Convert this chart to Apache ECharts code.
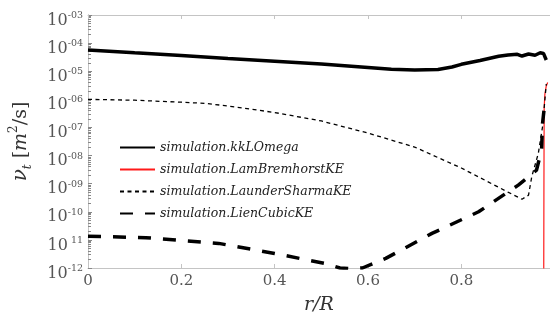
<!DOCTYPE html>
<html><head><meta charset="utf-8">
<script src="https://cdn.jsdelivr.net/npm/echarts@6/dist/echarts.min.js"></script>
<style>html,body{margin:0;padding:0;background:#fff}#c{width:550px;height:320px}</style>
</head><body><div id="c"></div>
<script>
// ---- data ----
const seriesNames = ['simulation.kkLOmega','simulation.LamBremhorstKE','simulation.LaunderSharmaKE','simulation.LienCubicKE'];
const rKk   = [0, 0.1, 0.2, 0.3, 0.4, 0.5, 0.6, 0.65, 0.7, 0.75, 0.78, 0.8, 0.84, 0.88, 0.9, 0.92, 0.93, 0.944, 0.958, 0.969, 0.976, 0.982];
const nuKk  = [5.7e-5, 4.5e-5, 3.6e-5, 2.83e-5, 2.25e-5, 1.79e-5, 1.35e-5, 1.17e-5, 1.10e-5, 1.15e-5, 1.41e-5, 1.76e-5, 2.4e-5, 3.39e-5, 3.77e-5, 4.0e-5, 3.47e-5, 4.1e-5, 3.7e-5, 4.55e-5, 4.3e-5, 2.5e-5];
const rLB   = [0, 0.97, 0.9765, 0.977, 0.9775, 0.979, 0.982, 0.985];
const nuLB  = [1e-15, 1e-15, 1e-13, 1e-9, 5e-7, 1.5e-6, 3e-6, 4e-6];
const rLS   = [0, 0.1, 0.2, 0.25, 0.3, 0.4, 0.5, 0.6, 0.7, 0.8, 0.85, 0.9, 0.93, 0.944, 0.951, 0.965, 0.974, 0.982];
const nuLS  = [1e-6, 9.3e-7, 7.9e-7, 7.2e-7, 5.8e-7, 3.4e-7, 1.7e-7, 6.3e-8, 2.0e-8, 3.6e-9, 1.34e-9, 5e-10, 2.8e-10, 3.9e-10, 1.8e-9, 1.2e-8, 1.06e-7, 3.5e-6];
const rLC   = [0, 0.124, 0.28, 0.4, 0.507, 0.54, 0.56, 0.588, 0.638, 0.737, 0.837, 0.922, 0.961, 0.972, 0.974, 0.978];
const nuLC  = [1.36e-11, 1.2e-11, 7.5e-12, 3.3e-12, 1.46e-12, 1.0e-12, 9.5e-13, 1.0e-12, 2.2e-12, 1.7e-11, 1e-10, 8.9e-10, 3.0e-9, 1.6e-8, 1.4e-7, 5.5e-7];
const xTicks = [0, 0.2, 0.4, 0.6, 0.8];

const zip = (a, b) => a.map((v, i) => [v, b[i]]);
const serif = '"DejaVu Serif", "Liberation Serif", serif';
const axisCol = '#c4c4c4';

const chart = echarts.init(document.getElementById('c'));
chart.setOption({
  animation: false,
  grid: { left: 87, top: 15, width: 465, height: 253 },
  legend: {
    left: 114, top: 136, orient: 'vertical', itemGap: 9, itemWidth: 35, itemHeight: 14,
    itemStyle: { opacity: 0 },
    textStyle: { fontFamily: serif, fontStyle: 'italic', fontSize: 12.5, color: '#222' },
    data: seriesNames
  },
  xAxis: [{
    type: 'value', min: 0, max: 0.99, interval: 0.2,
    name: 'r/R', nameLocation: 'middle', nameGap: 28,
    nameTextStyle: { fontFamily: serif, fontStyle: 'italic', fontSize: 19, color: '#333' },
    axisLine: { show: true, lineStyle: { color: axisCol } },
    axisTick: { inside: true, length: 4, lineStyle: { color: axisCol } },
    axisLabel: { fontFamily: serif, fontSize: 15, color: '#555', margin: 6,
      formatter: v => (xTicks.indexOf(Math.round(v * 10) / 10) >= 0 ? String(Math.round(v * 10) / 10) : '') ,
      showMaxLabel: false },
    splitLine: { show: false }
  }, {
    type: 'value', position: 'top', min: 0, max: 0.99, interval: 0.2,
    axisLine: { show: true, lineStyle: { color: axisCol } },
    axisTick: { inside: true, length: 4, lineStyle: { color: axisCol } },
    axisLabel: { show: false }, splitLine: { show: false }
  }],
  yAxis: [{
    type: 'log', logBase: 10, min: 1e-12, max: 1e-3,
    name: '{g|ν}{sub|t} [{i|m}{sup|2}/s]', nameLocation: 'middle', nameGap: 54, nameRotate: 90,
    nameTextStyle: { fontFamily: serif, fontSize: 19, color: '#333',
      rich: {
        g: { fontFamily: serif, fontStyle: 'italic', fontSize: 20, color: '#333', lineHeight: 26, verticalAlign: 'middle' },
        i: { fontFamily: serif, fontStyle: 'italic', fontSize: 19, color: '#333', lineHeight: 26, verticalAlign: 'middle' },
        sub: { fontFamily: serif, fontStyle: 'italic', fontSize: 12, color: '#333', lineHeight: 12, verticalAlign: 'bottom' },
        sup: { fontFamily: serif, fontSize: 12, color: '#333', lineHeight: 12, verticalAlign: 'top' }
      } },
    axisLine: { show: true, lineStyle: { color: '#aaa' } },
    axisTick: { inside: true, length: 4, lineStyle: { color: '#888' } },
    minorTick: { show: true, splitNumber: 9, length: 3, lineStyle: { color: '#888' } },
    axisLabel: {
      margin: 5, padding: [9, 0, 0, 0],
      formatter: v => {
        const e = Math.round(Math.log10(v));
        const s = e === -11 ? ' 11' : '-' + String(-e).padStart(2, '0');
        return '{b|10}{s|' + s + '}';
      },
      rich: {
        b: { fontFamily: serif, fontSize: 16, color: '#555', lineHeight: 18, verticalAlign: 'bottom' },
        s: { fontFamily: serif, fontSize: 9.5, color: '#555', lineHeight: 10, verticalAlign: 'top' }
      }
    },
    splitLine: { show: false }
  }, {
    type: 'log', logBase: 10, min: 1e-12, max: 1e-3, position: 'right',
    axisLine: { show: true, lineStyle: { color: axisCol } },
    axisTick: { show: false }, axisLabel: { show: false }, splitLine: { show: false }
  }],
  series: [
    { name: seriesNames[0], type: 'line', data: zip(rKk, nuKk), showSymbol: false, symbol: 'none',
      lineStyle: { color: '#000', width: 3.5 }, itemStyle: { color: '#000' } },
    { name: seriesNames[1], type: 'line', data: zip(rLB, nuLB), showSymbol: false, symbol: 'none',
      lineStyle: { color: '#ff1a1a', width: 1.2 }, itemStyle: { color: '#ff1a1a' } },
    { name: seriesNames[2], type: 'line', data: zip(rLS, nuLS), showSymbol: false, symbol: 'none',
      lineStyle: { color: '#000', width: 1.3, type: [4, 3.5] }, itemStyle: { color: '#000' } },
    { name: seriesNames[3], type: 'line', data: zip(rLC, nuLC), showSymbol: false, symbol: 'none',
      lineStyle: { color: '#000', width: 3.5, type: [13, 12] }, itemStyle: { color: '#000' } }
  ]
});
</script></body></html>
